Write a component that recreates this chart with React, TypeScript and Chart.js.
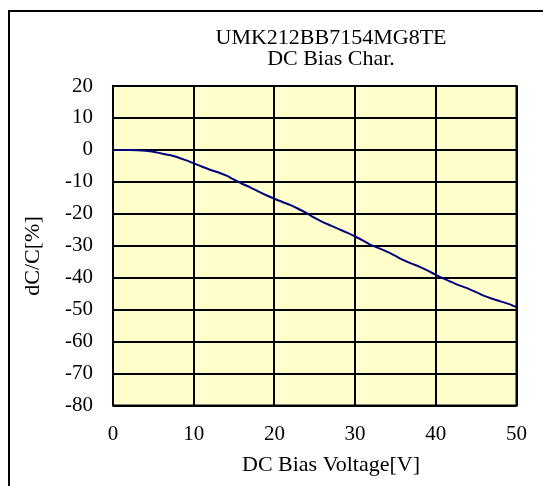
import React, { useEffect, useRef } from "react";
import { Chart, registerables } from "chart.js";

Chart.register(...registerables);

const titleLines = ["UMK212BB7154MG8TE", "DC Bias Char."];
const xAxisTitle = "DC Bias Voltage[V]";
const yAxisTitle = "dC/C[%]";

const voltage = [
  0, 1, 2, 3, 4, 5, 6, 7, 8, 9, 10, 11, 12, 13, 14, 15, 16, 17, 18, 19, 20,
  21, 22, 23, 24, 25, 26, 27, 28, 29, 30, 31, 32, 33, 34, 35, 36, 37, 38, 39,
  40, 41, 42, 43, 44, 45, 46, 47, 48, 49, 50,
];
const dcBias = [
  0, 0, 0, -0.1, -0.3, -0.6, -1.1, -1.6, -2.3, -3.2, -4.2, -5.2, -6.2, -7.0,
  -8.0, -9.3, -10.6, -11.7, -13.0, -14.2, -15.3, -16.3, -17.3, -18.5, -19.8,
  -21.3, -22.6, -23.7, -24.8, -25.9, -27.1, -28.4, -29.8, -30.8, -31.9, -33.2,
  -34.5, -35.6, -36.6, -37.8, -39.1, -40.3, -41.4, -42.5, -43.4, -44.5, -45.7,
  -46.6, -47.4, -48.2, -49.2,
];

const FONT = "'Liberation Serif', 'Times New Roman', serif";
const TICK_SIZE = 21;
const TITLE_SIZE = 22;

export default function App() {
  const ref = useRef<HTMLCanvasElement | null>(null);

  useEffect(() => {
    const canvas = ref.current;
    if (!canvas) return;

    const decor = {
      id: "decor",
      beforeDraw(chart: any) {
        const { ctx, chartArea } = chart;
        ctx.save();
        ctx.fillStyle = "#ffffff";
        ctx.fillRect(0, 0, chart.width, chart.height);
        ctx.fillStyle = "#FFFFCC";
        ctx.fillRect(
          chartArea.left,
          chartArea.top,
          chartArea.right - chartArea.left,
          chartArea.bottom - chartArea.top
        );
        // outer frame (chart area border, extends beyond the view)
        ctx.strokeStyle = "#000";
        ctx.lineWidth = 2;
        ctx.beginPath();
        ctx.moveTo(9, chart.height + 5);
        ctx.lineTo(9, 11);
        ctx.lineTo(chart.width + 5, 11);
        ctx.stroke();
        // titles, centred on the full (partly hidden) chart frame
        const cx = 331;
        ctx.fillStyle = "#000";
        ctx.font = `${TITLE_SIZE}px ${FONT}`;
        ctx.textAlign = "center";
        ctx.textBaseline = "middle";
        ctx.fillText(titleLines[0], cx, 38);
        ctx.fillText(titleLines[1], cx, 59);
        ctx.fillText(xAxisTitle, cx, 465);
        ctx.translate(33, 256);
        ctx.rotate(-Math.PI / 2);
        ctx.fillText(yAxisTitle, 0, 0);
        ctx.restore();
      },
      afterDatasetsDraw(chart: any) {
        const { ctx, chartArea } = chart;
        ctx.save();
        ctx.strokeStyle = "#000";
        ctx.lineWidth = 2;
        ctx.strokeRect(
          chartArea.left,
          chartArea.top,
          chartArea.right - chartArea.left,
          chartArea.bottom - chartArea.top
        );
        ctx.restore();
      },
    };

    const chart = new Chart(canvas, {
      type: "line",
      data: {
        datasets: [
          {
            data: voltage.map((v, i) => ({ x: v, y: dcBias[i] })),
            borderColor: "#000080",
            borderWidth: 2,
            pointRadius: 0,
            tension: 0.3,
            fill: false,
          },
        ],
      },
      options: {
        responsive: false,
        animation: false,
        devicePixelRatio: 1,
        layout: { padding: { top: 86, right: 21.5, left: 0, bottom: 0 } },
        plugins: {
          legend: { display: false },
          title: { display: false },
          tooltip: { enabled: false },
        },
        scales: {
          x: {
            type: "linear",
            min: 0,
            max: 50,
            border: { display: false },
            grid: { color: "#000", lineWidth: 2, drawTicks: false },
            ticks: {
              stepSize: 10,
              padding: 16,
              color: "#000",
              font: { family: FONT, size: TICK_SIZE },
              maxRotation: 0,
            },
            afterFit(scale: any) {
              scale.height = 80.5;
            },
          },
          y: {
            type: "linear",
            min: -80,
            max: 20,
            border: { display: false },
            grid: { color: "#000", lineWidth: 2, drawTicks: false },
            ticks: {
              stepSize: 10,
              padding: 20,
              color: "#000",
              font: { family: FONT, size: TICK_SIZE },
            },
            afterFit(scale: any) {
              scale.width = 113;
            },
          },
        },
      },
      plugins: [decor],
    });

    return () => chart.destroy();
  }, []);

  return (
    <canvas
      ref={ref}
      width={543}
      height={486}
      style={{ position: "absolute", left: 0, top: 0, width: 543, height: 486 }}
    />
  );
}
